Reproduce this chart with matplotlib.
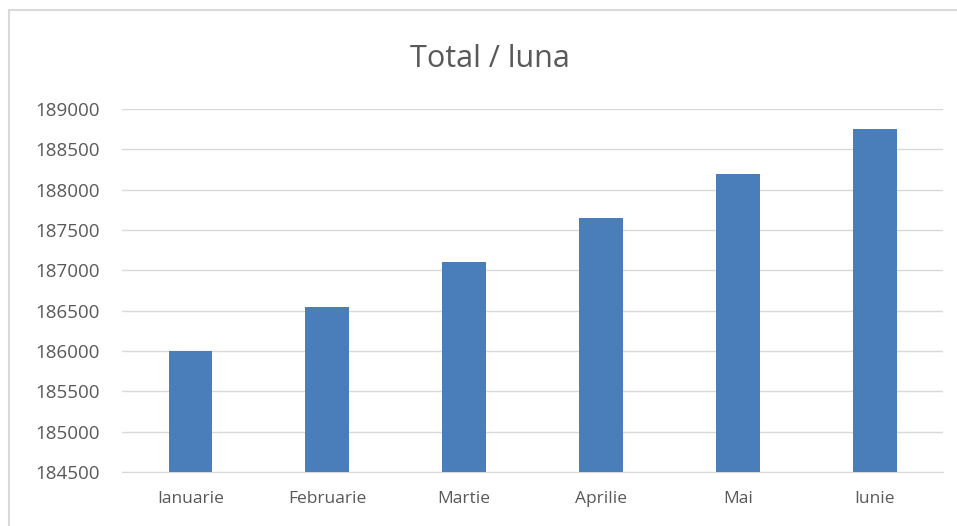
import matplotlib.pyplot as plt
from matplotlib.patches import Rectangle

luni = ["Ianuarie", "Februarie", "Martie", "Aprilie", "Mai", "Iunie"]
total = [186000, 186550, 187100, 187650, 188200, 188750]
yticks = [184500, 185000, 185500, 186000, 186500, 187000, 187500, 188000, 188500, 189000]

plt.rcParams['font.family'] = ['Open Sans', 'DejaVu Sans']

fig = plt.figure(figsize=(9.57, 5.26), dpi=100)
ax = fig.add_axes([0.1275, 0.1027, 0.858, 0.690])

ax.bar(range(len(luni)), total, width=0.32, color='#4a7ebb', zorder=3)
ax.set_ylim(184500, 189000)
ax.set_xlim(-0.5, len(luni) - 0.5)
ax.set_yticks(yticks)
ax.set_yticklabels([str(v) for v in yticks])
ax.set_xticks(range(len(luni)))
ax.set_xticklabels(luni)
ax.grid(axis='y', color='#d9d9d9', linewidth=1, zorder=0)
for s in ['top', 'right', 'left']:
    ax.spines[s].set_visible(False)
ax.spines['bottom'].set_color('#d9d9d9')
ax.tick_params(length=0, labelcolor='#595959')
ax.tick_params(axis='y', pad=16, labelsize=13.5)
ax.tick_params(axis='x', pad=14, labelsize=12.5)

fig.suptitle("Total / luna", x=0.512, y=0.917, fontsize=22, color='#595959')

# chenarul graficului
fig.patches.append(Rectangle((9 / 957, -0.1), 1.2, 1.1 - 10 / 526, transform=fig.transFigure,
                             fill=False, edgecolor='#d9d9d9', linewidth=1.5))

fig.savefig("out.png", dpi=100)
